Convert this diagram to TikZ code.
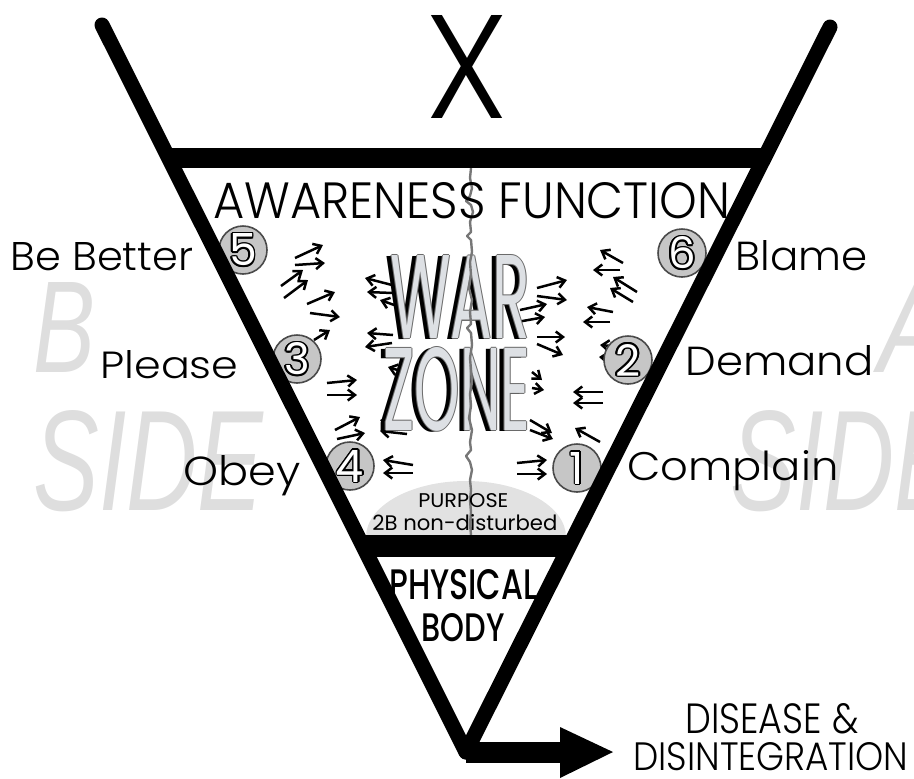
\documentclass[tikz,border=0pt]{standalone}
\usepackage{fontspec}
\setmainfont{Poppins Light}
\newfontfamily\popreg{Poppins}
\newfontfamily\popmed{Poppins Medium}
\newfontfamily\bgfont{Liberation Sans}
\usetikzlibrary{arrows.meta}
\definecolor{circfill}{HTML}{C6C6C6}
\definecolor{circline}{HTML}{4A4A4A}
\definecolor{bgtext}{HTML}{DEDEDE}
\definecolor{crackc}{HTML}{777777}
\definecolor{warface}{HTML}{DDE0E4}
\definecolor{waredge}{HTML}{6A6A6A}
\definecolor{purp}{HTML}{E2E2E2}
\newcommand\fitt[3]{\resizebox{#1pt}{#2pt}{#3}}
\begin{document}
\begin{tikzpicture}[x=0.5pt,y=-0.5pt,
  lab/.style={inner sep=0pt, anchor=base west, font=\fontsize{20}{24}\selectfont},
  bigline/.style={line width=7.5pt, line cap=round},
  bar/.style={line width=10pt},
  circ/.style={circle, minimum size=24pt, inner sep=0pt, fill=circfill, draw=circline, line width=0.8pt},
  dig/.style={inner sep=0pt, font=\popreg\fontsize{20}{24}\selectfont},
  warr/.style={line width=1.25pt, -{Straight Barb[length=3.6pt,width=5.5pt]}},
  bgl/.style={inner sep=0pt, anchor=base west, text=bgtext, font=\bgfont\itshape\fontsize{40}{48}\selectfont}
]
\useasboundingbox (0,0) rectangle (914,778);
\clip (0,0) rectangle (914,778);

% background side labels
\node[bgl] (bB) at (33,372) {\fitt{31}{45}{B}};
\node[bgl] (bS) at (33,510) {\fitt{115}{50}{SIDE}};
\node[bgl] (aA) at (878,372) {\fitt{34}{45}{A}};
\node[bgl] (aS) at (730,510) {\fitt{115}{50}{SIDE}};

% purpose mound
\fill[purp] (366,537) arc[start angle=180, end angle=360, x radius=100, y radius=56] -- cycle;

% conflict arrows
\foreach \a/\b/\c/\d in {295/258/323/245, 295/265/325/263, 281/286/303/270, 284/298/308/280, 307/304/335/292, 310/313/340/317, 314/340/330/330, 327/383/357/380, 327/395/357/395, 335/430/360/417, 337/439/365/433,
392/285/365/278, 393/293/367/292, 400/307/380/300, 393/335/367/333, 392/343/365/347, 407/373/388/367, 408/427/380/420, 407/434/380/431, 413/465/383/460, 413/473/383/473,
537/288/567/280, 537/296/567/300, 520/310/547/304, 517/322/545/317, 537/337/565/337, 537/344/563/355, 532/372/542/380, 532/388/544/390, 530/420/552/433, 530/430/553/439, 517/463/547/460, 517/474/547/474,
623/263/600/250, 620/270/593/270, 637/292/613/277, 633/302/610/288, 613/312/587/307, 610/322/583/322, 612/346/600/345, 612/358/599/357, 603/392/573/392, 603/403/573/403, 600/442/575/428}
  \draw[warr] (\a,\b) -- (\c,\d);

% WAR ZONE
\foreach \t/\x/\y/\w in {WAR/390/338/70, ZONE/383/430/73.5} {
  \node[lab, text=black] at (\x-5,\y+1) {\fitt{\w}{41.5}{\popreg\t}};
  \foreach \sx/\sy in {-1/0,1/0,0/-1,0/1}
    \node[lab, text=waredge] at (\x+\sx,\y+\sy) {\fitt{\w}{41.5}{\popreg\t}};
  \node[lab, text=warface] at (\x,\y) {\fitt{\w}{41.5}{\popreg\t}};
}

% crack
\draw[crackc, line width=1.2pt, line join=round]
 (471,168) -- (470,178) -- (472,188) -- (470,196) -- (466,201) -- (471,205) -- (473,212) -- (470,222) -- (471,232) -- (467,236) -- (471,240) -- (472,252) -- (470,262) -- (471,275) -- (469,288) -- (472,300) -- (470,312) -- (471,324) -- (467,328) -- (471,333) -- (472,345) -- (470,358) -- (471,370) -- (472,382) -- (470,394) -- (471,406) -- (469,418) -- (472,430) -- (470,442) -- (471,450) -- (466,456) -- (470,462) -- (472,470) -- (470,480) -- (471,490) -- (470,500) -- (471,512) -- (470,524) -- (471,535);

% texts
\node[lab] (xx) at (425,118) {\fitt{41.5}{51.5}{X}};
\node[lab] (aw) at (213,218) {\fitt{258.5}{18}{AWARENESS FUNCTION}};
\node[lab] (bb) at (10,270) {\fitt{91.5}{14}{Be Better}};
\node[lab] (pl) at (100,378) {\fitt{69}{14}{Please}};
\node[lab] (ob) at (183,485) {\fitt{58.5}{15}{Obey}};
\node[lab] (bl) at (735,270) {\fitt{66}{15}{Blame}};
\node[lab] (de) at (685,375) {\fitt{94}{15}{Demand}};
\node[lab] (co) at (627,480) {\fitt{105.5}{15}{Complain}};
\node[lab] (pu) at (418,507) {\fitt{45}{7}{\popreg PURPOSE}};
\node[lab] (nd) at (372,530) {\fitt{92.5}{8}{\popreg 2B non-disturbed}};
\node[lab] (ph) at (389,599) {\fitt{74}{15}{\popmed PHYSICAL}};
\node[lab] (bo) at (421,641) {\fitt{41.5}{14}{\popmed BODY}};
\node[lab] (di) at (685,733) {\fitt{86.5}{15}{DISEASE \&}};
\node[lab] (dn) at (633,770) {\fitt{137.5}{14}{DISINTEGRATION}};

% numbered circles
\node[circ] (c5) at (243,250) {};
\node[circ] (c3) at (297,359) {};
\node[circ] (c4) at (350,466) {};
\node[circ] (c6) at (682,253) {};
\node[circ] (c2) at (628,360) {};
\node[circ] (c1) at (577,468) {};
\foreach \n in {1,...,6} {
  \foreach \ang in {0,30,...,330}
    \node[dig, text=black] at ([shift={(\ang:0.9pt)}]c\n.center) {\resizebox{!}{16pt}{\n}};
  \node[dig, text=white] (d\n) at (c\n.center) {\resizebox{!}{16pt}{\n}};
}

% funnel
\coordinate (LT) at (102,25);
\coordinate (RT) at (830,27);
\coordinate (V) at (466,752);
\coordinate (AH) at (562,752);
\draw[bigline] (LT) -- (V);
\draw[bigline] (RT) -- (V);
\draw[bar] (168,158) -- (765,158);
\draw[line width=11pt] (361,546) -- (570,546);
\draw[line width=10.5pt] (V) -- (AH);
\fill (560,727) -- (613,752) -- (560,778) -- cycle;
\end{tikzpicture}
\end{document}
